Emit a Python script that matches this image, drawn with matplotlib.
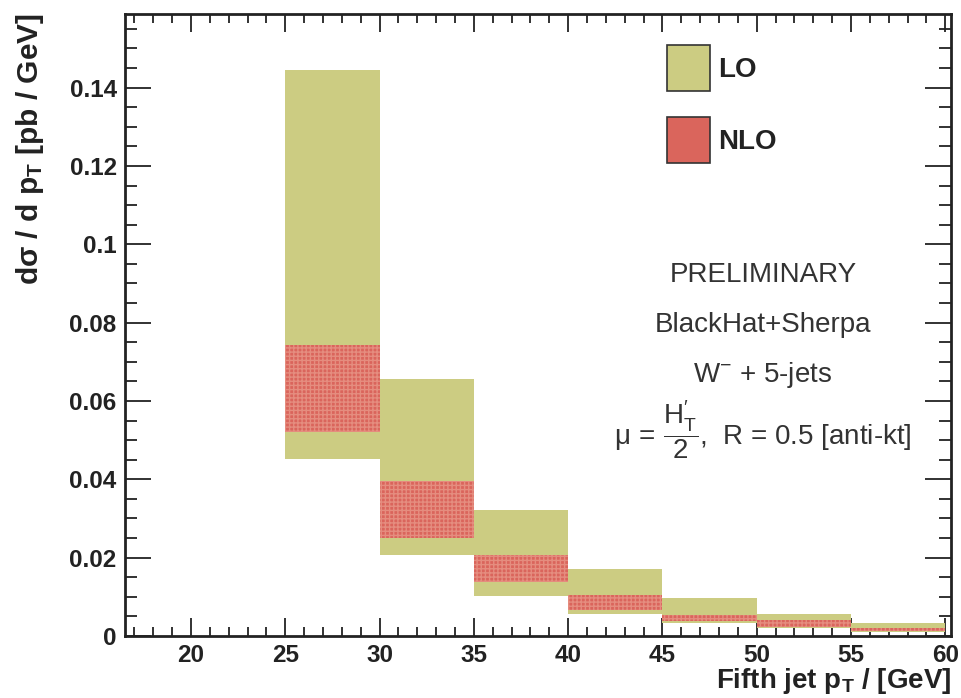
import matplotlib
matplotlib.use("Agg")
import matplotlib.pyplot as plt
from matplotlib.patches import Patch
from matplotlib.ticker import MultipleLocator, FixedLocator, FixedFormatter

plt.rcParams['font.family'] = ['Liberation Sans', 'DejaVu Sans']
plt.rcParams['mathtext.fontset'] = 'custom'
plt.rcParams['mathtext.rm'] = 'Liberation Sans'
plt.rcParams['mathtext.it'] = 'Liberation Sans:italic'
plt.rcParams['mathtext.bf'] = 'Liberation Sans:bold'
plt.rcParams['hatch.linewidth'] = 1.0

# Fifth-jet pT bins (left edges, GeV) and bin width
bin_left = [25, 30, 35, 40, 45, 50, 55]
bin_width = 5

# LO scale-variation band [pb/GeV]
lo_high = [0.1445, 0.0656, 0.0321, 0.0172, 0.0096, 0.0055, 0.0034]
lo_low = [0.0451, 0.0206, 0.0102, 0.0056, 0.0032, 0.0020, 0.0010]

# NLO scale-variation band [pb/GeV]
nlo_high = [0.0743, 0.0395, 0.0206, 0.0104, 0.0053, 0.0040, 0.0021]
nlo_low = [0.0521, 0.0249, 0.0138, 0.0066, 0.0038, 0.0023, 0.0013]

y_ticks = [0, 0.02, 0.04, 0.06, 0.08, 0.1, 0.12, 0.14]
y_tick_labels = ["0", "0.02", "0.04", "0.06", "0.08", "0.1", "0.12", "0.14"]
x_ticks = [20, 25, 30, 35, 40, 45, 50, 55, 60]

LO_COLOR = '#cccc82'
NLO_COLOR = '#da655c'
NLO_DOTS = '#e58d7f'

W, H = 962, 698
fig = plt.figure(figsize=(W / 100, H / 100), dpi=100)
ax = fig.add_axes([125 / W, 1 - 636 / H, (951 - 125) / W, (636 - 14) / H])

lo_h = [h - l for h, l in zip(lo_high, lo_low)]
nlo_h = [h - l for h, l in zip(nlo_high, nlo_low)]

ax.bar(bin_left, lo_h, bottom=lo_low, width=bin_width, align='edge',
       color=LO_COLOR, linewidth=0, zorder=2)
ax.bar(bin_left, nlo_h, bottom=nlo_low, width=bin_width, align='edge',
       facecolor=NLO_COLOR, edgecolor=NLO_DOTS, hatch='++++', linewidth=0, zorder=3)

ax.set_xlim(16.5, 60.3)
ax.set_ylim(0, 0.1588)

ax.xaxis.set_major_locator(FixedLocator(x_ticks))
ax.xaxis.set_minor_locator(MultipleLocator(1))
ax.yaxis.set_major_locator(FixedLocator(y_ticks))
ax.yaxis.set_major_formatter(FixedFormatter(y_tick_labels))
ax.yaxis.set_minor_locator(MultipleLocator(0.005))

ax.tick_params(which='both', direction='in', top=True, right=True, color='#222222')
ax.tick_params(axis='y', which='major', length=18.5, width=1.3, pad=6)
ax.tick_params(axis='y', which='minor', length=8.5, width=1.3)
ax.tick_params(axis='x', which='major', length=13, width=1.3, pad=6)
ax.tick_params(axis='x', which='minor', length=6.5, width=1.3)
for lab in ax.get_xticklabels() + ax.get_yticklabels():
    lab.set_fontsize(17.5)
    lab.set_fontweight('bold')
    lab.set_color('#222222')
for sp in ax.spines.values():
    sp.set_linewidth(2.0)
    sp.set_color('#222222')

# Axis titles
fig.text(951 / W, 1 - 688 / H, r'Fifth jet p$_{\mathbf{T}}$ / [GeV]',
         ha='right', va='baseline', fontsize=20, fontweight='bold', color='#222222')
fig.text(14 / W, 1 - 13 / H, 'dσ / d p$_{\\mathbf{T}}$ [pb / GeV]',
         rotation=90, ha='left', va='top', fontsize=21.5, fontweight='bold', color='#222222')

# Legend (outlined boxes; hatch drawn in the box colour)
lo_patch = Patch(facecolor=LO_COLOR, edgecolor='#333333', linewidth=1.2)
nlo_patch = Patch(facecolor=NLO_COLOR, edgecolor='#333333', linewidth=1.2)
leg = ax.legend([lo_patch, nlo_patch], ['LO', 'NLO'], loc='upper left',
                bbox_to_anchor=((667 - 125) / (951 - 125), (636 - 45) / (636 - 14)),
                frameon=False, borderpad=0, borderaxespad=0,
                handlelength=1.55, handleheight=2.15, handletextpad=0.3,
                labelspacing=0.95, prop={'size': 20, 'weight': 'bold'})
for t in leg.get_texts():
    t.set_color('#222222')

# Annotation block
cx = 763 / W
txt_kw = dict(ha='center', va='center', fontsize=20, color='#333333')
fig.text(cx, 1 - 275 / H, 'PRELIMINARY', **txt_kw)
fig.text(cx, 1 - 325 / H, 'BlackHat+Sherpa', **txt_kw)
fig.text(cx, 1 - 375 / H, r'W$^{-}$ + 5-jets', **txt_kw)
fig.text(cx, 1 - 430 / H, r'$\mathrm{\mu\,=\,\dfrac{H^{\prime}_{T}}{2}}$,  R = 0.5 [anti-kt]', **txt_kw)

fig.savefig('out.png', dpi=100)
